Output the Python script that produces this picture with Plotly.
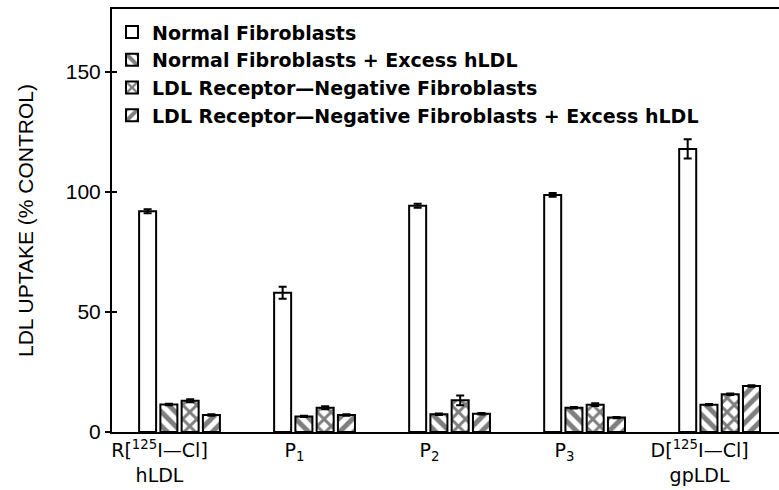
import plotly.graph_objects as go

categories = ["R[<sup>125</sup>I\u2014Cl]<br>hLDL", "P<sub>1</sub>", "P<sub>2</sub>", "P<sub>3</sub>", "D[<sup>125</sup>I\u2014Cl]<br>gpLDL"]
series_names = [
    "Normal Fibroblasts",
    "Normal Fibroblasts + Excess hLDL",
    "LDL Receptor\u2014Negative Fibroblasts",
    "LDL Receptor\u2014Negative Fibroblasts + Excess hLDL",
]
normal = [92, 58, 94.3, 98.8, 118]
normal_err = [0.8, 2.5, 0.8, 0.8, 4]
normal_excess = [11.5, 6.5, 7.4, 10.1, 11.4]
normal_excess_err = [0.3, 0.3, 0.3, 0.3, 0.3]
neg = [13, 10.1, 13.2, 11.4, 15.7]
neg_err = [0.6, 0.6, 2.0, 0.6, 0.3]
neg_excess = [7.1, 7.1, 7.6, 6.0, 19.2]
neg_excess_err = [0.3, 0.3, 0.3, 0.3, 0.3]
y_ticks = [0, 50, 100, 150]

x = list(range(len(categories)))
values = [normal, normal_excess, neg, neg_excess]
errs = [normal_err, normal_excess_err, neg_err, neg_excess_err]
patterns = ["", "\\", "x", "/"]

fig = go.Figure()
for name, v, e, p in zip(series_names, values, errs, patterns):
    fig.add_trace(go.Bar(
        x=x, y=v, name=name,
        marker=dict(color="white", line=dict(color="black", width=2),
                    pattern=dict(shape=p, fgcolor="black", bgcolor="white", size=10, solidity=0.5)),
        error_y=dict(type="data", array=e, visible=True, color="black", thickness=2, width=4),
    ))

fig.add_trace(go.Scatter(x=[0], y=[0], yaxis="y2", mode="markers", marker=dict(opacity=0),
                         showlegend=False, hoverinfo="skip"))

fig.update_layout(
    width=779, height=490,
    margin=dict(l=112, r=0, t=9, b=58),
    paper_bgcolor="white", plot_bgcolor="white",
    barmode="group", bargap=0.37, bargroupgap=0.2,
    font=dict(family="Liberation Sans, Arial, sans-serif", color="black"),
    xaxis=dict(range=[-0.5, 4.44], tickvals=x, ticktext=categories, showline=True, linecolor="black",
               linewidth=2, mirror=True, ticks="", showgrid=False, zeroline=False,
               tickfont=dict(family="DejaVu Sans, sans-serif", size=19), ticklabelshift=-20,
               ticklabelstandoff=0),
    yaxis=dict(range=[0, 176.3], tickvals=y_ticks, showline=True, linecolor="black", linewidth=2,
               ticks="outside", ticklen=5, tickwidth=2, tickcolor="black", showgrid=False, zeroline=False,
               tickfont=dict(size=21),
               title=dict(text="LDL UPTAKE (% CONTROL)", font=dict(size=21), standoff=26)),
    yaxis2=dict(range=[0, 176.3], tickvals=y_ticks, overlaying="y", side="left", anchor="x",
                ticks="inside", ticklen=5, tickwidth=2, tickcolor="black", showticklabels=False,
                showgrid=False, zeroline=False, showline=False),
    legend=dict(x=0.0, y=0.99, xanchor="left", yanchor="top", bgcolor="rgba(0,0,0,0)",
                font=dict(family="DejaVu Sans, sans-serif", size=19, weight="bold"),
                tracegroupgap=0, itemwidth=30),
    showlegend=True,
)

fig.write_html("out.html", config={"displayModeBar": False},
               post_script="document.body.style.margin='0px';")
